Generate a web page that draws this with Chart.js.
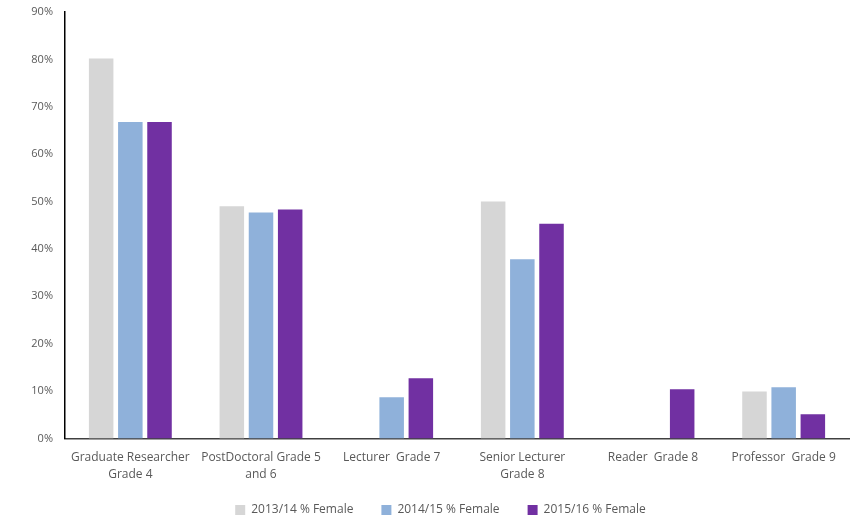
<!DOCTYPE html>
<html>
<head>
<meta charset="utf-8">
<script src="https://cdn.jsdelivr.net/npm/chart.js@4"></script>
<style>
  html, body { margin: 0; padding: 0; background: #fff; }
  #wrap { width: 859px; height: 519px; }
</style>
</head>
<body>
<div id="wrap"><canvas id="barChart"></canvas></div>
<script>
var categories = [
    ['Graduate Researcher', 'Grade 4'],
    ['PostDoctoral Grade 5', 'and 6'],
    'Lecturer  Grade 7',
    ['Senior Lecturer', 'Grade 8'],
    'Reader  Grade 8',
    'Professor  Grade 9'
];
var female1314 = [80.2, 49.0, 0, 50.0, 0, 9.9];
var female1415 = [66.8, 47.7, 8.7, 37.8, 0, 10.8];
var female1516 = [66.8, 48.3, 12.7, 45.3, 10.4, 5.1];
var seriesNames = ['2013/14 % Female', '2014/15 % Female', '2015/16 % Female'];

// legend keeps wide item spacing but takes less room (drawn without clip)
var tightLegend = {
    id: 'tightLegend',
    afterInit: function (chart) {
        var legend = chart.legend;
        var fit = legend.fit;
        legend.fit = function () {
            fit.call(this);
            this.height -= 25;
        };
        legend.draw = function () {
            var c = this.ctx;
            c.save();
            c.translate(16, -18);
            this._draw();
            c.restore();
        };
    }
};

var ctx = document.getElementById('barChart');
var barChart = new Chart(ctx, {
    type: 'bar',
    data: {
        labels: categories,
        datasets: [{
            label: seriesNames[0],
            data: female1314,
            backgroundColor: '#D6D6D6'
        }, {
            label: seriesNames[1],
            data: female1415,
            backgroundColor: '#8FB1DA'
        }, {
            label: seriesNames[2],
            data: female1516,
            backgroundColor: '#7130A2'
        }]
    },
    plugins: [tightLegend],
    options: {
        responsive: true,
        maintainAspectRatio: false,
        animation: false,
        categoryPercentage: 0.67,
        barPercentage: 0.84,
        layout: { padding: { top: 12, right: 10, bottom: 0, left: 0 } },
        plugins: {
            legend: {
                position: 'bottom',
                labels: {
                    boxWidth: 10,
                    boxHeight: 10,
                    color: '#595959',
                    font: { family: 'Open Sans', size: 12 },
                    padding: 28
                }
            },
            tooltip: { enabled: false }
        },
        scales: {
            x: {
                grid: { display: false, drawTicks: false },
                border: { color: '#404040', width: 1.5 },
                ticks: {
                    color: '#595959',
                    font: { family: 'Open Sans', size: 12, lineHeight: 1.4 },
                    maxRotation: 0,
                    autoSkip: false,
                    padding: 11
                }
            },
            y: {
                min: 0,
                max: 90,
                grid: { display: false, drawTicks: false },
                border: { color: '#000', width: 1.5 },
                afterFit: function (scale) {
                    scale.width = 65;
                    scale.paddingTop = 0;
                },
                ticks: {
                    stepSize: 10,
                    color: '#595959',
                    font: { family: 'Open Sans', size: 11 },
                    padding: 12,
                    callback: function (v) { return v + '%'; }
                }
            }
        }
    }
});
</script>
</body>
</html>
